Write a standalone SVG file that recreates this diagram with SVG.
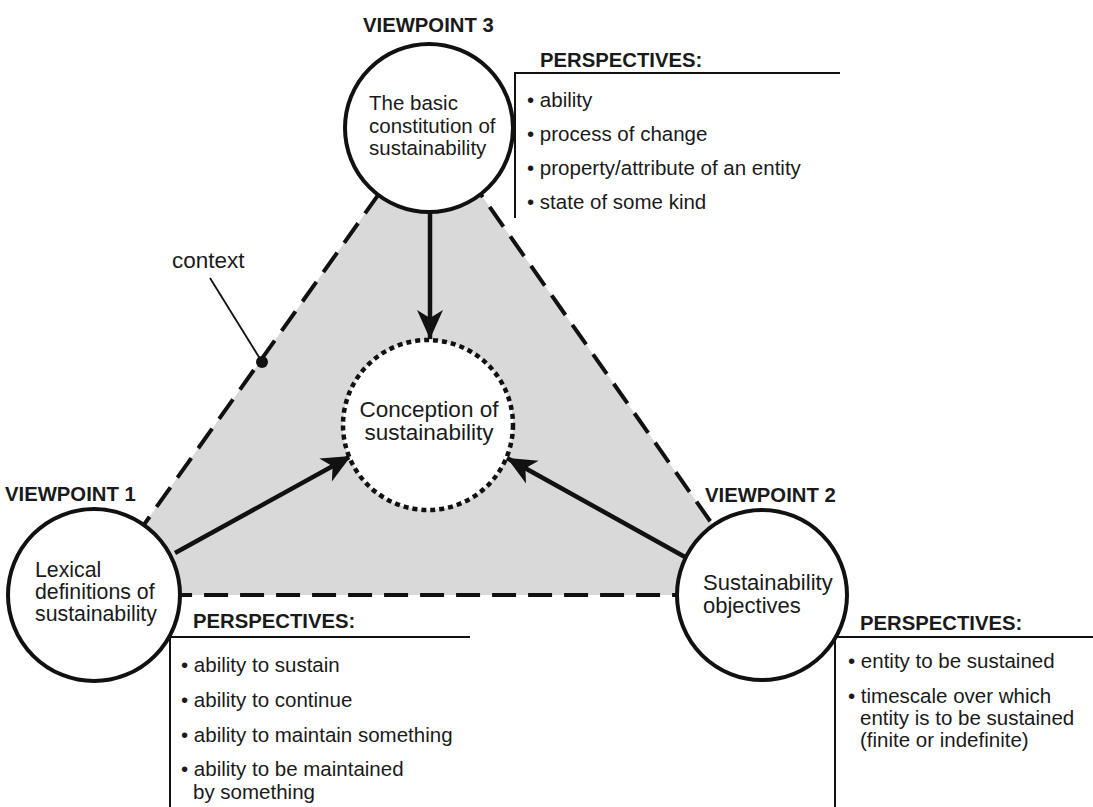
<svg xmlns="http://www.w3.org/2000/svg" width="1093" height="807" viewBox="0 0 1093 807">
<style>
text{font-family:"Liberation Sans",Arial,sans-serif;fill:#1a1a1a}
.t{font-size:20.5px}
.c{font-size:22.5px;text-anchor:middle}
.h{font-size:20.3px;font-weight:bold}
.circ{fill:#fff;stroke:#111;stroke-width:4}
.box{fill:none;stroke:#111;stroke-width:2}
.conn{stroke:#111;stroke-width:4.5;fill:none}
</style>
<defs>
<marker id="ah" markerUnits="userSpaceOnUse" viewBox="-30 -15 32 30" refX="0" refY="0" markerWidth="32" markerHeight="30" orient="auto">
<path d="M0,0 L-29,-13 L-21,0 L-29,13 Z" fill="#111"/>
</marker>
</defs>
<g id="context-triangle">
<path d="M94,595 L430,122 L762,595 Z" fill="#d9d9d9" stroke="#111" stroke-width="4" stroke-dasharray="24 12"/>
</g>
<g id="context-label">
<text x="172" y="268" style="font-size:22.5px">context</text>
<line x1="210" y1="278" x2="262" y2="362" stroke="#111" stroke-width="1.8"/>
<circle cx="262" cy="362" r="6" fill="#111"/>
</g>
<g id="connectors">
<line class="conn" x1="430" y1="213" x2="430" y2="339" marker-end="url(#ah)"/>
<line class="conn" x1="175" y1="553" x2="351" y2="456" marker-end="url(#ah)"/>
<line class="conn" x1="685" y1="557" x2="507" y2="458" marker-end="url(#ah)"/>
</g>
<g id="center">
<circle cx="428" cy="425" r="85" fill="#fff" stroke="#111" stroke-width="4.5" stroke-dasharray="5 4"/>
<text class="c" x="429" y="417">Conception of</text>
<text class="c" x="429" y="440">sustainability</text>
</g>
<g id="viewpoint3">
<text class="h" x="363" y="32">VIEWPOINT 3</text>
<circle class="circ" cx="429" cy="128" r="84"/>
<text class="t" x="369" y="110">The basic</text>
<text class="t" x="369" y="133">constitution of</text>
<text class="t" x="369" y="155">sustainability</text>
</g>
<g id="perspectives3">
<text class="h" x="540" y="67">PERSPECTIVES:</text>
<path class="box" d="M840,73 H515 V218"/>
<text class="t" x="527" y="107">• ability</text>
<text class="t" x="527" y="141">• process of change</text>
<text class="t" x="527" y="175">• property/attribute of an entity</text>
<text class="t" x="527" y="209">• state of some kind</text>
</g>
<g id="viewpoint1">
<text class="h" x="5" y="501">VIEWPOINT 1</text>
<circle class="circ" cx="94" cy="595" r="86"/>
<text x="35" y="577" style="font-size:21.3px">Lexical</text>
<text x="35" y="599" style="font-size:21.3px">definitions of</text>
<text x="35" y="621" style="font-size:21.3px">sustainability</text>
</g>
<g id="perspectives1">
<text class="h" x="193" y="628">PERSPECTIVES:</text>
<path class="box" d="M470,637 H170 V807"/>
<text class="t" x="181" y="672">• ability to sustain</text>
<text class="t" x="181" y="707">• ability to continue</text>
<text class="t" x="181" y="742">• ability to maintain something</text>
<text class="t" x="181" y="776">• ability to be maintained</text>
<text class="t" x="193" y="799">by something</text>
</g>
<g id="viewpoint2">
<text class="h" x="705" y="502">VIEWPOINT 2</text>
<circle class="circ" cx="762" cy="595" r="85"/>
<text x="703" y="590" style="font-size:22px">Sustainability</text>
<text x="703" y="613" style="font-size:22px">objectives</text>
</g>
<g id="perspectives2">
<text class="h" x="860" y="630">PERSPECTIVES:</text>
<path class="box" d="M1093,637 H835 V807"/>
<text class="t" x="848" y="668">• entity to be sustained</text>
<text class="t" x="848" y="703">• timescale over which</text>
<text class="t" x="860" y="725">entity is to be sustained</text>
<text class="t" x="860" y="747">(finite or indefinite)</text>
</g>
</svg>
